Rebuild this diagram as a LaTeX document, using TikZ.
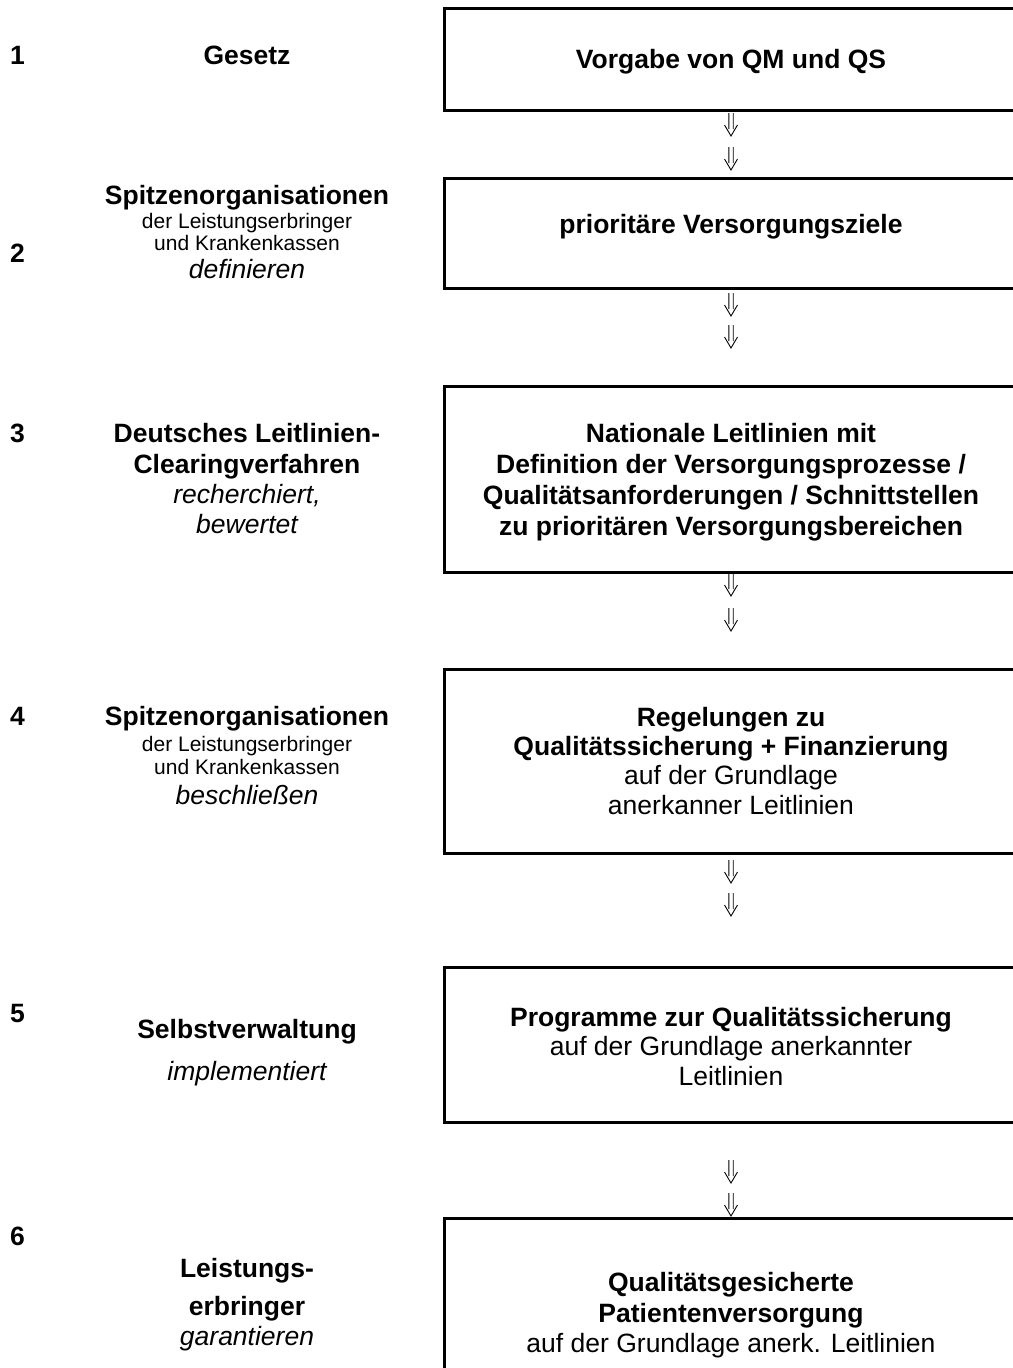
\documentclass[tikz,border=0pt]{standalone}
\usepackage{fontspec}
\setmainfont{Liberation Sans}
\usetikzlibrary{calc}
\begin{document}
\begin{tikzpicture}[x=1pt,y=1pt,
  every node/.style={inner sep=0pt, outer sep=0pt},
  tb/.style={anchor=base, font={\fontsize{26.5}{31}\selectfont\bfseries}},
  tr/.style={anchor=base, font={\fontsize{26.5}{31}\selectfont}},
  ti/.style={anchor=base, font={\fontsize{26.5}{31}\selectfont\itshape}},
  ts/.style={anchor=base, font={\fontsize{21}{25}\selectfont}},
  num/.style={anchor=base west, font={\fontsize{26.5}{31}\selectfont\bfseries}},
  boxst/.style={draw, line width=3pt, minimum width=574pt},
  dbl/.pic={\draw[line width=0.9pt, line cap=butt, line join=miter]
      (-2.2,0) -- (-2.2,-16) (2.2,0) -- (2.2,-16)
      (-6.5,-12) -- (0,-23) -- (6.5,-12);}
]
\useasboundingbox (0,0) rectangle (1012,-1368);

% boxes
\node[boxst, minimum height=102pt] (b1) at (731,-59) {};
\node[boxst, minimum height=110pt] (b2) at (731,-233) {};
\node[boxst, minimum height=186pt] (b3) at (731,-479) {};
\node[boxst, minimum height=184pt] (b4) at (731,-761) {};
\node[boxst, minimum height=155pt] (b5) at (731,-1044.5) {};
\node[boxst, minimum height=202pt] (b6) at (731,-1319) {};

% double arrows
\coordinate (a1) at ($(b1.south)+(0,-3)$);
\coordinate (a2) at ($(b2.south)+(0,-5)$);
\coordinate (a3) at ($(b3.south)+(0,-1)$);
\coordinate (a4) at ($(b4.south)+(0,-7)$);
\coordinate (a5) at ($(b5.south)+(0,-38)$);
\pic at (a1) {dbl}; \pic at ($(a1)+(0,-34)$) {dbl};
\pic at (a2) {dbl}; \pic at ($(a2)+(0,-32)$) {dbl};
\pic at (a3) {dbl}; \pic at ($(a3)+(0,-35)$) {dbl};
\pic at (a4) {dbl}; \pic at ($(a4)+(0,-33)$) {dbl};
\pic at (a5) {dbl}; \pic at ($(a5)+(0,-33)$) {dbl};

% box texts
\node[tb] (t1) at (731,-68) {Vorgabe von QM und QS};
\node[tb] (t2) at (731,-233) {prioritäre Versorgungsziele};
\node[tb] (t3a) at (731,-442) {Nationale Leitlinien mit};
\node[tb] (t3b) at (731,-473) {Definition der Versorgungsprozesse /};
\node[tb] (t3c) at (731,-504) {Qualitätsanforderungen / Schnittstellen};
\node[tb] (t3d) at (731,-535) {zu prioritären Versorgungsbereichen};
\node[tb] (t4a) at (731,-726) {Regelungen zu};
\node[tb] (t4b) at (731,-755) {Qualitätssicherung + Finanzierung};
\node[tr] (t4c) at (731,-784) {auf der Grundlage};
\node[tr] (t4d) at (731,-814) {anerkanner Leitlinien};
\node[tb] (t5a) at (731,-1026) {Programme zur Qualitätssicherung};
\node[tr] (t5b) at (731,-1055) {auf der Grundlage anerkannter};
\node[tr] (t5c) at (731,-1085) {Leitlinien};
\node[tb] (t6a) at (731,-1291) {Qualitätsgesicherte};
\node[tb] (t6b) at (731,-1322) {Patientenversorgung};
\node[tr] (t6c) at (731,-1352) {auf der Grundlage anerk. Leitlinien};

% numbers
\node[num] (n1) at (10,-64) {1};
\node[num] (n2) at (10,-262) {2};
\node[num] (n3) at (10,-442) {3};
\node[num] (n4) at (10,-725) {4};
\node[num] (n5) at (10,-1022) {5};
\node[num] (n6) at (10,-1245) {6};

% left column
\node[tb] (l1) at (247,-64) {Gesetz};
\node[tb] (l2a) at (247,-204) {Spitzenorganisationen};
\node[ts] (l2b) at (247,-228) {der Leistungserbringer};
\node[ts] (l2c) at (247,-250) {und Krankenkassen};
\node[ti] (l2d) at (247,-278) {definieren};
\node[tb] (l3a) at (247,-442) {Deutsches Leitlinien-};
\node[tb] (l3b) at (247,-473) {Clearingverfahren};
\node[ti] (l3c) at (247,-503) {recherchiert,};
\node[ti] (l3d) at (247,-533) {bewertet};
\node[tb] (l4a) at (247,-725) {Spitzenorganisationen};
\node[ts] (l4b) at (247,-751) {der Leistungserbringer};
\node[ts] (l4c) at (247,-774) {und Krankenkassen};
\node[ti] (l4d) at (247,-804) {beschließen};
\node[tb] (l5a) at (247,-1038) {Selbstverwaltung};
\node[ti] (l5b) at (247,-1080) {implementiert};
\node[tb] (l6a) at (247,-1277) {Leistungs-};
\node[tb] (l6b) at (247,-1315) {erbringer};
\node[ti] (l6c) at (247,-1345) {garantieren};
\end{tikzpicture}
\end{document}
